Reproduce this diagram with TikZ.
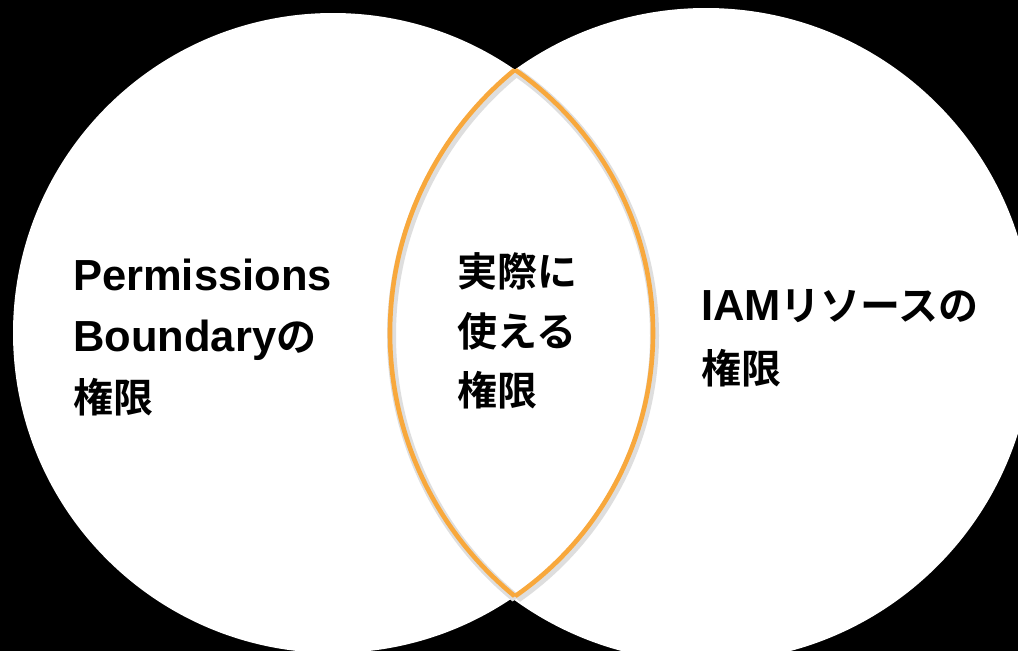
\documentclass[tikz,border=0pt]{standalone}
\usepackage{fontspec}
\newfontfamily\jp{Noto Sans CJK JP Bold}
\newfontfamily\lat{Liberation Sans}
\definecolor{lensorange}{HTML}{F8A83C}
\tikzset{
  lbl/.style={anchor=base west, inner sep=0pt, text=black},
  lensline/.style={draw=lensorange, line width=4.6pt},
  lensshadow/.style={draw=black!13, line width=9pt},
}
\newcommand{\latxt}[1]{{\lat\bfseries\fontsize{43.5}{50}\selectfont #1}}
\newcommand{\jptxt}[1]{{\jp\fontsize{40}{50}\selectfont #1}}
\begin{document}
\begin{tikzpicture}[x=1pt,y=-1pt]
\useasboundingbox (0,0) rectangle (1018,651);
\fill[black] (0,0) rectangle (1018,651);
\begin{scope}
  \clip (0,0) rectangle (1018,651);
  \fill[white] (333,333) circle (320);
  \fill[white] (706,335) circle (327);
  % shadow of lens
  \begin{scope}[shift={(1.5,2.5)}]
    \begin{scope}
      \clip (333,333) circle (320);
      \draw[lensshadow] (730,333) circle (340);
    \end{scope}
    \begin{scope}
      \clip (730,333) circle (340);
      \draw[lensshadow] (333,333) circle (320);
    \end{scope}
  \end{scope}
  \begin{scope}
    \clip (333,333) circle (320);
    \draw[lensline] (730,333) circle (340);
  \end{scope}
  \begin{scope}
    \clip (730,333) circle (340);
    \draw[lensline] (333,333) circle (320);
  \end{scope}
\end{scope}
% left text
\node[lbl] (l1) at (73,290) {\latxt{Permissions}};
\node[lbl] (l2) at (73,351) {\latxt{Boundary}\jptxt{の}};
\node[lbl] (l3) at (73,412) {\jptxt{権限}};
% center text
\node[lbl] (c1) at (457,286) {\jptxt{実際に}};
\node[lbl] (c2) at (457,346) {\jptxt{使える}};
\node[lbl] (c3) at (457,405) {\jptxt{権限}};
% right text
\node[lbl] (r1) at (701,320) {\latxt{IAM}\jptxt{リソースの}};
\node[lbl] (r2) at (701,383) {\jptxt{権限}};
\end{tikzpicture}
\end{document}
